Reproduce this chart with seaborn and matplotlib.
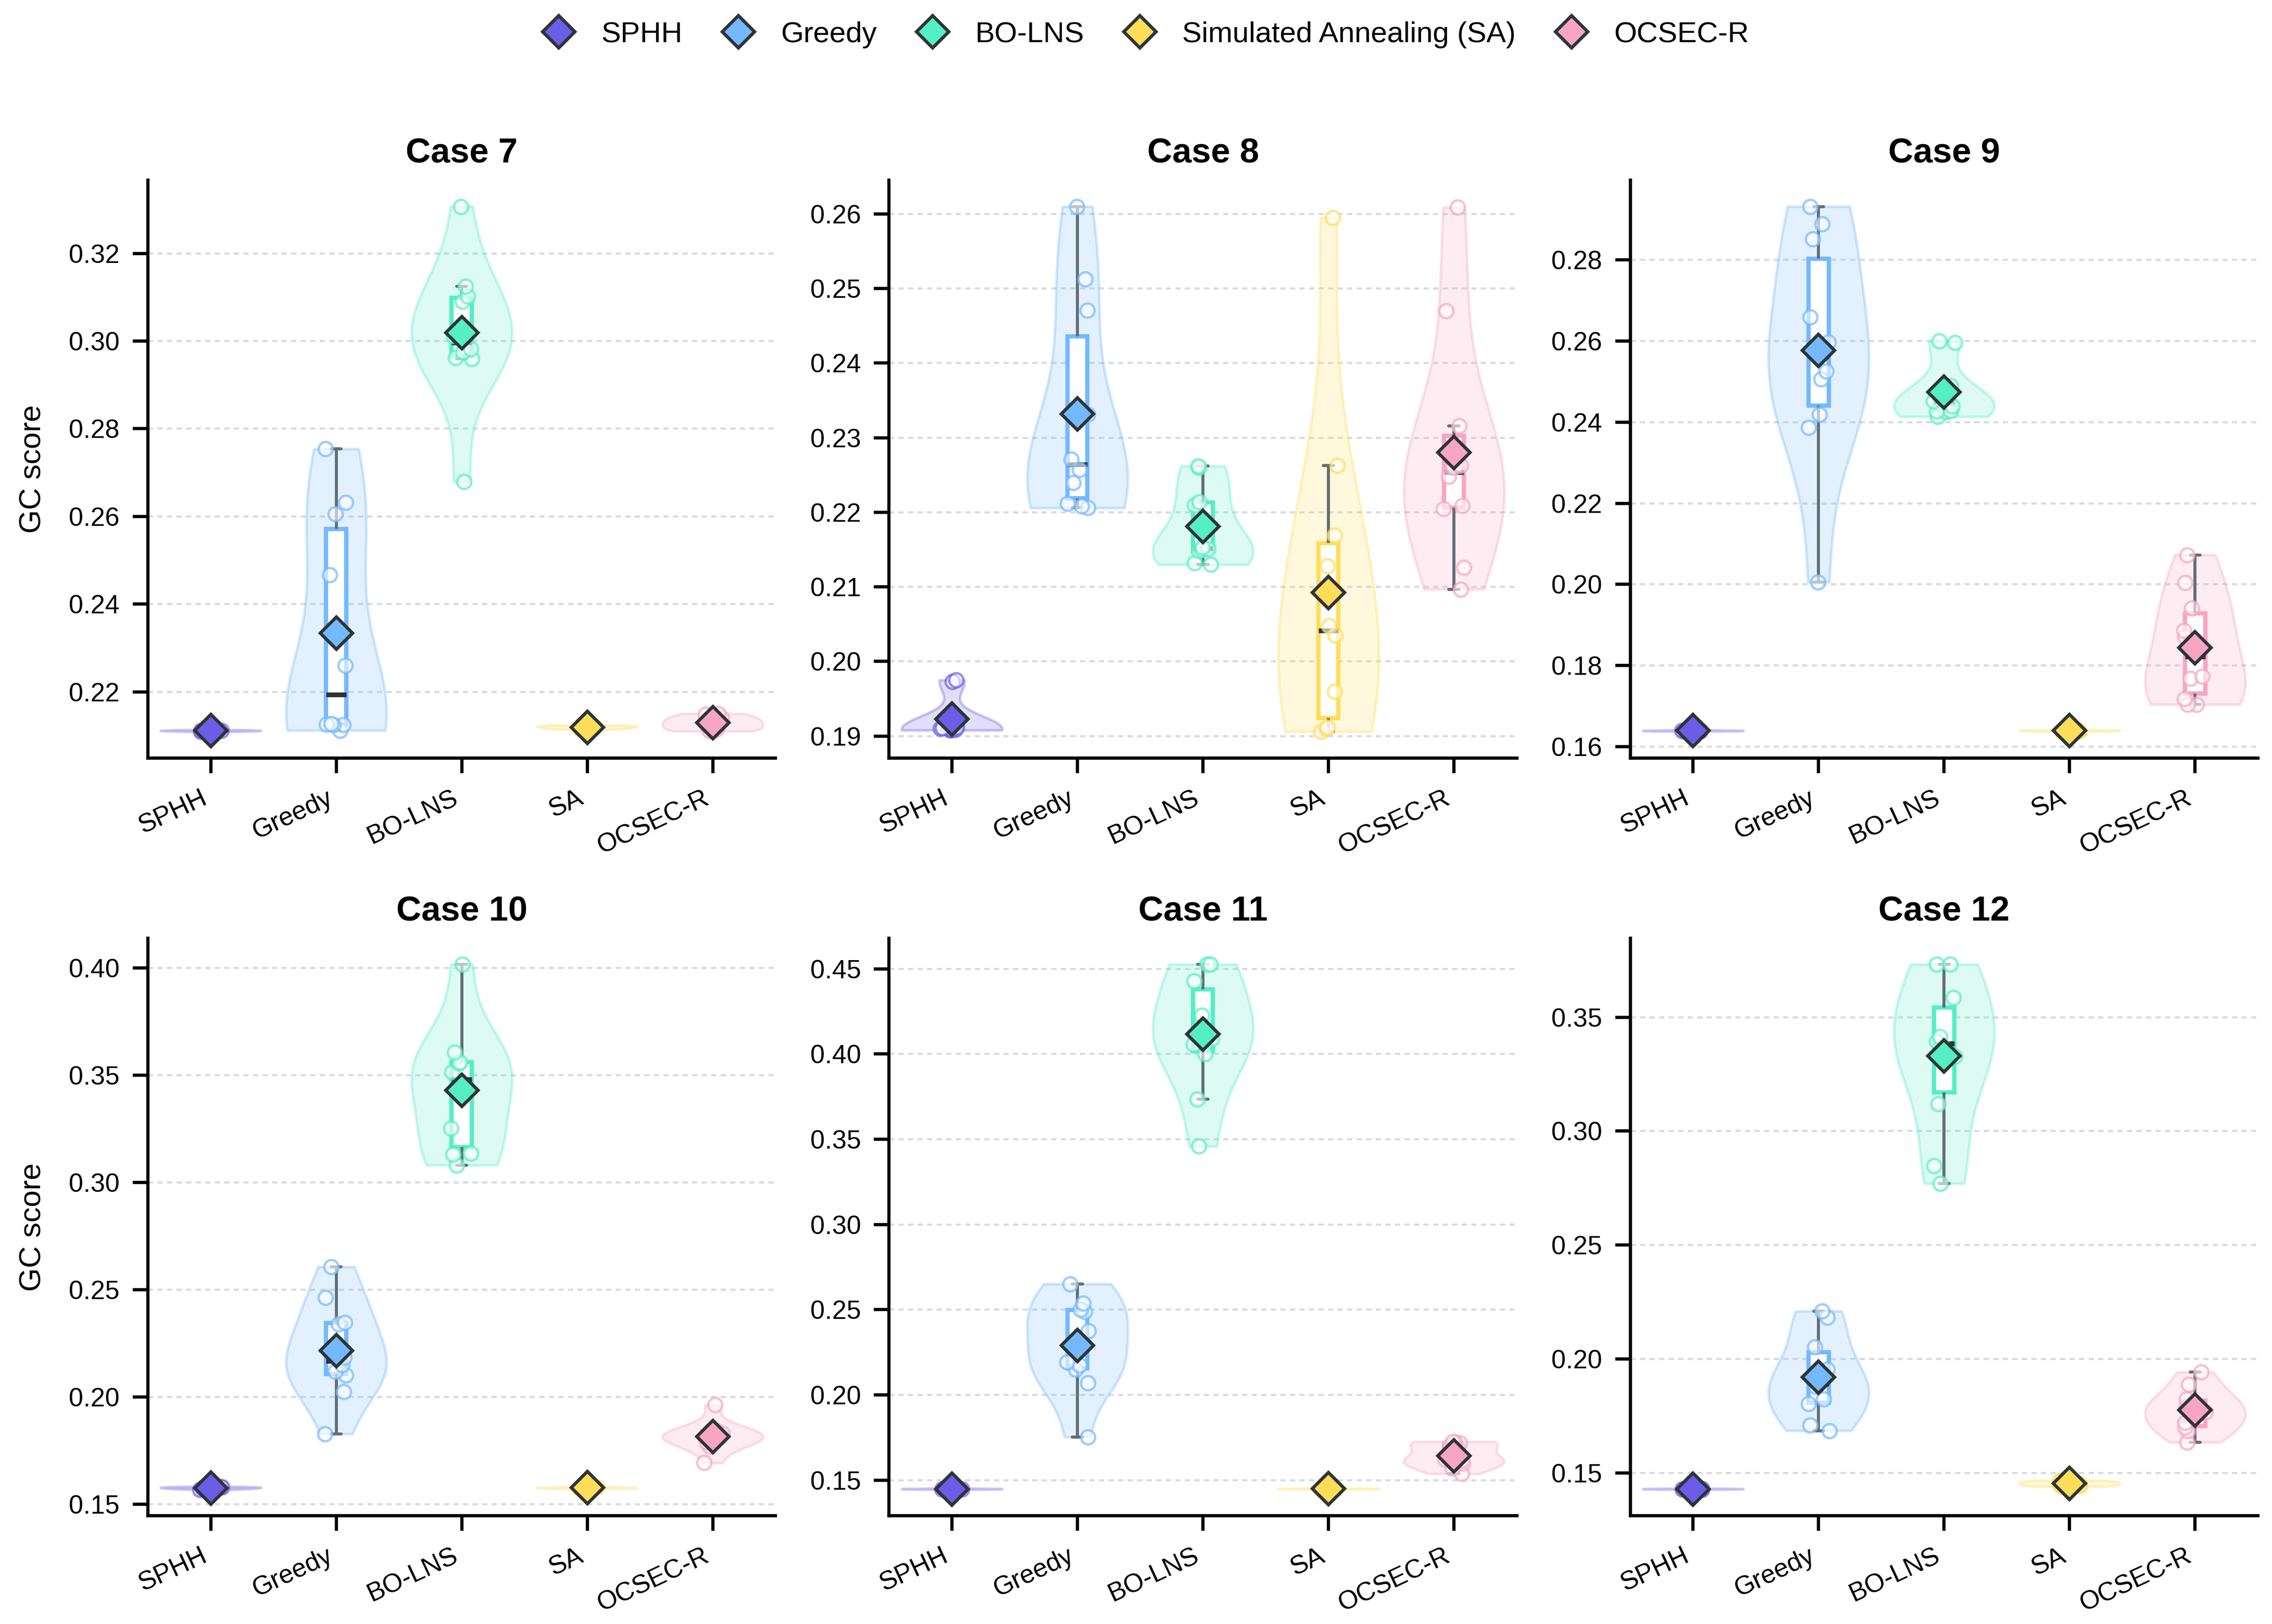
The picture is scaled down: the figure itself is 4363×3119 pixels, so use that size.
import numpy as np
import pandas as pd
import matplotlib.pyplot as plt
import seaborn as sns
from matplotlib.lines import Line2D

# 方法与配色
METHODS = ["SPHH", "Greedy", "BO-LNS", "SA", "OCSEC-R"]
LEGEND_NAMES = ["SPHH", "Greedy", "BO-LNS", "Simulated Annealing (SA)", "OCSEC-R"]
COLORS = ["#6C5CE7", "#74B9FF", "#55EFC4", "#FFDD59", "#F8A5C2"]
CASES = ["Case 7", "Case 8", "Case 9", "Case 10", "Case 11", "Case 12"]

# 每个 case 每种方法 10 次运行的 GC score
case7 = {
    "SPHH": [0.2109, 0.2110, 0.2110, 0.2111, 0.2111, 0.2111, 0.2112, 0.2112, 0.2113, 0.2113],
    "Greedy": [0.2112, 0.2125, 0.2125, 0.2126, 0.2127, 0.2260, 0.2467, 0.2606, 0.2632, 0.2754],
    "BO-LNS": [0.2679, 0.2960, 0.2962, 0.2975, 0.2982, 0.3012, 0.3090, 0.3102, 0.3125, 0.3307],
    "SA": [0.2114, 0.2115, 0.2116, 0.2118, 0.2119, 0.2120, 0.2121, 0.2122, 0.2123, 0.2124],
    "OCSEC-R": [0.2110, 0.2112, 0.2115, 0.2120, 0.2128, 0.2130, 0.2135, 0.2140, 0.2148, 0.2150],
}
case8 = {
    "SPHH": [0.1908, 0.1908, 0.1909, 0.1909, 0.1910, 0.1910, 0.1911, 0.1912, 0.1973, 0.1975],
    "Greedy": [0.2206, 0.2208, 0.2212, 0.2240, 0.2257, 0.2271, 0.2331, 0.2471, 0.2513, 0.2610],
    "BO-LNS": [0.2130, 0.2132, 0.2148, 0.2150, 0.2151, 0.2153, 0.2210, 0.2214, 0.2260, 0.2262],
    "SA": [0.1906, 0.1910, 0.1912, 0.1960, 0.2035, 0.2048, 0.2128, 0.2169, 0.2263, 0.2595],
    "OCSEC-R": [0.2097, 0.2126, 0.2205, 0.2209, 0.2248, 0.2260, 0.2263, 0.2316, 0.2470, 0.2609],
}
case9 = {
    "SPHH": [0.1638, 0.1638, 0.1639, 0.1639, 0.1639, 0.1639, 0.1640, 0.1640, 0.1640, 0.1641],
    "Greedy": [0.2006, 0.2387, 0.2419, 0.2507, 0.2526, 0.2598, 0.2659, 0.2852, 0.2889, 0.2932],
    "BO-LNS": [0.2414, 0.2425, 0.2427, 0.2428, 0.2440, 0.2452, 0.2470, 0.2490, 0.2597, 0.2600],
    "SA": [0.1637, 0.1638, 0.1638, 0.1639, 0.1639, 0.1640, 0.1640, 0.1640, 0.1641, 0.1641],
    "OCSEC-R": [0.1704, 0.1704, 0.1718, 0.1768, 0.1773, 0.1871, 0.1886, 0.1942, 0.2004, 0.2073],
}
case10 = {
    "SPHH": [0.1570, 0.1572, 0.1574, 0.1575, 0.1577, 0.1578, 0.1579, 0.1580, 0.1582, 0.1583],
    "Greedy": [0.1829, 0.2025, 0.2102, 0.2120, 0.2150, 0.2185, 0.2340, 0.2348, 0.2465, 0.2607],
    "BO-LNS": [0.3081, 0.3132, 0.3136, 0.3253, 0.3443, 0.3515, 0.3556, 0.3560, 0.3606, 0.4016],
    "SA": [0.1574, 0.1575, 0.1576, 0.1577, 0.1577, 0.1578, 0.1578, 0.1579, 0.1580, 0.1581],
    "OCSEC-R": [0.1694, 0.1770, 0.1790, 0.1805, 0.1810, 0.1820, 0.1830, 0.1840, 0.1845, 0.1964],
}
case11 = {
    "SPHH": [0.1446, 0.1447, 0.1448, 0.1448, 0.1449, 0.1449, 0.1450, 0.1450, 0.1451, 0.1452],
    "Greedy": [0.1754, 0.2072, 0.2150, 0.2175, 0.2194, 0.2377, 0.2490, 0.2500, 0.2537, 0.2651],
    "BO-LNS": [0.3459, 0.3736, 0.4002, 0.4055, 0.4090, 0.4121, 0.4226, 0.4429, 0.4526, 0.4526],
    "SA": [0.1446, 0.1447, 0.1448, 0.1449, 0.1449, 0.1450, 0.1450, 0.1451, 0.1451, 0.1452],
    "OCSEC-R": [0.1538, 0.1571, 0.1600, 0.1615, 0.1622, 0.1630, 0.1700, 0.1718, 0.1722, 0.1726],
}
case12 = {
    "SPHH": [0.1428, 0.1429, 0.1429, 0.1430, 0.1430, 0.1430, 0.1431, 0.1431, 0.1432, 0.1432],
    "Greedy": [0.1686, 0.1711, 0.1803, 0.1825, 0.1880, 0.1903, 0.1955, 0.2054, 0.2183, 0.2210],
    "BO-LNS": [0.2771, 0.2847, 0.3119, 0.3327, 0.3376, 0.3395, 0.3414, 0.3586, 0.3732, 0.3732],
    "SA": [0.1440, 0.1442, 0.1445, 0.1450, 0.1452, 0.1455, 0.1460, 0.1462, 0.1465, 0.1468],
    "OCSEC-R": [0.1635, 0.1686, 0.1702, 0.1721, 0.1768, 0.1790, 0.1800, 0.1825, 0.1888, 0.1943],
}

DARK = "#2D3436"
WHISK = "#636E72"
GRID = "#D7DCE1"


def main():
    rows = []
    for case, runs in zip(CASES, [case7, case8, case9, case10, case11, case12]):
        for m in METHODS:
            for v in runs[m]:
                rows.append((case, m, v))
    df = pd.DataFrame(rows, columns=["case", "method", "score"])

    sns.set_theme(style="ticks", rc={
        "axes.edgecolor": "black", "text.color": "black", "axes.labelcolor": "black",
        "xtick.color": "black", "ytick.color": "black",
    })
    plt.rcParams["font.family"] = ["Liberation Sans", "DejaVu Sans"]

    np.random.seed(7)  # 抖动可复现
    pal = dict(zip(METHODS, COLORS))

    fig, axes = plt.subplots(2, 3, figsize=(4363 / 300, 3119 / 300), dpi=300)
    fig.subplots_adjust(left=0.0651, right=0.9938, bottom=0.0667, top=0.889,
                        wspace=0.181, hspace=0.312)

    common = dict(x="method", y="score", hue="method", order=METHODS,
                  hue_order=METHODS, palette=pal, legend=False)

    for i, (ax, case) in enumerate(zip(axes.flat, CASES)):
        d = df[df["case"] == case]

        # 小提琴
        n0 = len(ax.collections)
        sns.violinplot(data=d, density_norm="width", cut=0, inner=None, width=0.8,
                       linewidth=1.2, saturation=1, ax=ax, **common)
        for c in ax.collections[n0:]:
            r, g, b, _ = c.get_facecolor()[0]
            c.set_facecolor((r, g, b, 0.2))
            c.set_edgecolor((r, g, b, 0.35))
            c.set_linewidth(1.2)

        # 箱线
        p0 = len(ax.patches)
        sns.boxplot(data=d, width=0.16, showfliers=False, saturation=1, linewidth=2,
                    whiskerprops=dict(color=WHISK, linewidth=1.4),
                    capprops=dict(color=WHISK, linewidth=1.4),
                    medianprops=dict(color=DARK, linewidth=2.2),
                    ax=ax, **common)
        for p in ax.patches[p0:]:
            fc = p.get_facecolor()
            p.set_edgecolor(fc)
            p.set_facecolor("white")

        # 散点
        n1 = len(ax.collections)
        sns.stripplot(data=d, jitter=0.09, size=6.5, linewidth=1, zorder=3, ax=ax, **common)
        for c in ax.collections[n1:]:
            fcs = c.get_facecolor()
            if len(fcs) == 0:
                continue
            r, g, b, _ = fcs[0]
            c.set_edgecolor((r, g, b, 0.7))
            c.set_facecolor((1, 1, 1, 0.6))
            c.set_linewidth(1.1)

        # 均值菱形
        l0 = len(ax.lines)
        sns.pointplot(data=d, estimator="mean", errorbar=None, markers="D",
                      markersize=10.5, linestyle="none", ax=ax, **common)
        for ln in ax.lines[l0:]:
            ln.set_markeredgecolor(DARK)
            ln.set_markeredgewidth(1.5)
            ln.set_zorder(5)

        ax.set_title(case, fontsize=16, fontweight="bold", pad=8)
        ax.set_xlabel("")
        ax.set_ylabel("GC score" if i % 3 == 0 else "", fontsize=14, labelpad=10)
        ax.yaxis.grid(True, color=GRID, linewidth=1, linestyle=(0, (2.4, 2.0)))
        ax.set_axisbelow(True)
        ax.tick_params(length=7, width=1.5, pad=6, labelsize=12)
        plt.setp(ax.get_xticklabels(), rotation=25, ha="right")
        sns.despine(ax=ax)
        for s in ["left", "bottom"]:
            ax.spines[s].set_linewidth(1.5)

    handles = [Line2D([0], [0], marker="D", linestyle="none", markerfacecolor=c,
                      markeredgecolor=DARK, markeredgewidth=1.5, markersize=10.5)
               for c in COLORS]
    fig.legend(handles, LEGEND_NAMES, loc="center", bbox_to_anchor=(0.504, 0.9785),
               ncol=5, frameon=False, fontsize=13.5, handlelength=1.2,
               handletextpad=0.85, columnspacing=1.3)

    fig.savefig("out.png", dpi=300)
    plt.close(fig)


if __name__ == "__main__":
    main()
